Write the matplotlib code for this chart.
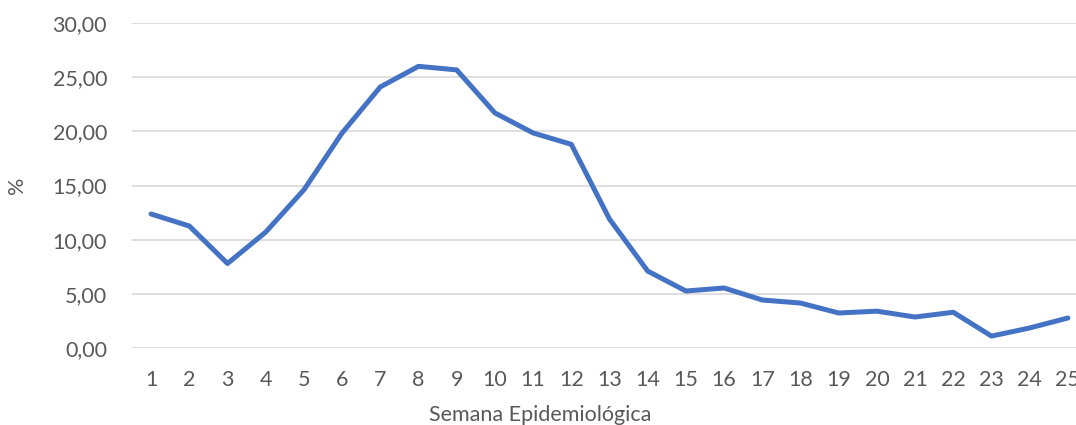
import matplotlib.pyplot as plt
from matplotlib.ticker import FuncFormatter

semanas = list(range(1, 26))
porcentaje = [12.37, 11.26, 7.8, 10.7, 14.6, 19.85, 24.1, 26.0, 25.67, 21.7,
              19.85, 18.8, 11.9, 7.1, 5.26, 5.54, 4.43, 4.15, 3.23, 3.4,
              2.86, 3.3, 1.1, 1.85, 2.77]

plt.rcParams['font.family'] = ['Lato', 'DejaVu Sans']
text_color = '#595959'

fig = plt.figure(figsize=(10.76, 4.25), dpi=100)
# axes run past the right edge on purpose: the original is cropped there
ax = fig.add_axes([132 / 1076, 77 / 425, 955 / 1076, 325 / 425])

x = list(range(len(semanas)))
ax.plot(x, porcentaje, color='#4472C4', linewidth=3.6, solid_joinstyle='round',
        solid_capstyle='round', zorder=3)

ax.set_xlim(-0.5, len(semanas) - 0.5)
ax.set_ylim(0, 30)
ax.set_yticks(range(0, 31, 5))
ax.yaxis.set_major_formatter(FuncFormatter(lambda v, p: f"{v:.2f}".replace('.', ',')))
ax.set_xticks(x)
ax.set_xticklabels([str(s) for s in semanas])

ax.grid(axis='y', color='#D9D9D9', linewidth=1.2)
ax.set_axisbelow(True)
for s in ax.spines.values():
    s.set_visible(False)
ax.tick_params(axis='both', length=0, labelsize=15.5, labelcolor=text_color)
ax.tick_params(axis='y', pad=18)
ax.tick_params(axis='x', pad=16)

ax.set_xlabel('Semana Epidemiológica', fontsize=15.5, color=text_color)
ax.xaxis.set_label_coords((540 - 132) / 955, -0.175)
ax.set_ylabel('%', fontsize=15.5, color=text_color)
ax.yaxis.set_label_coords(-0.11, 0.5)

fig.savefig('out.png', dpi=100)
